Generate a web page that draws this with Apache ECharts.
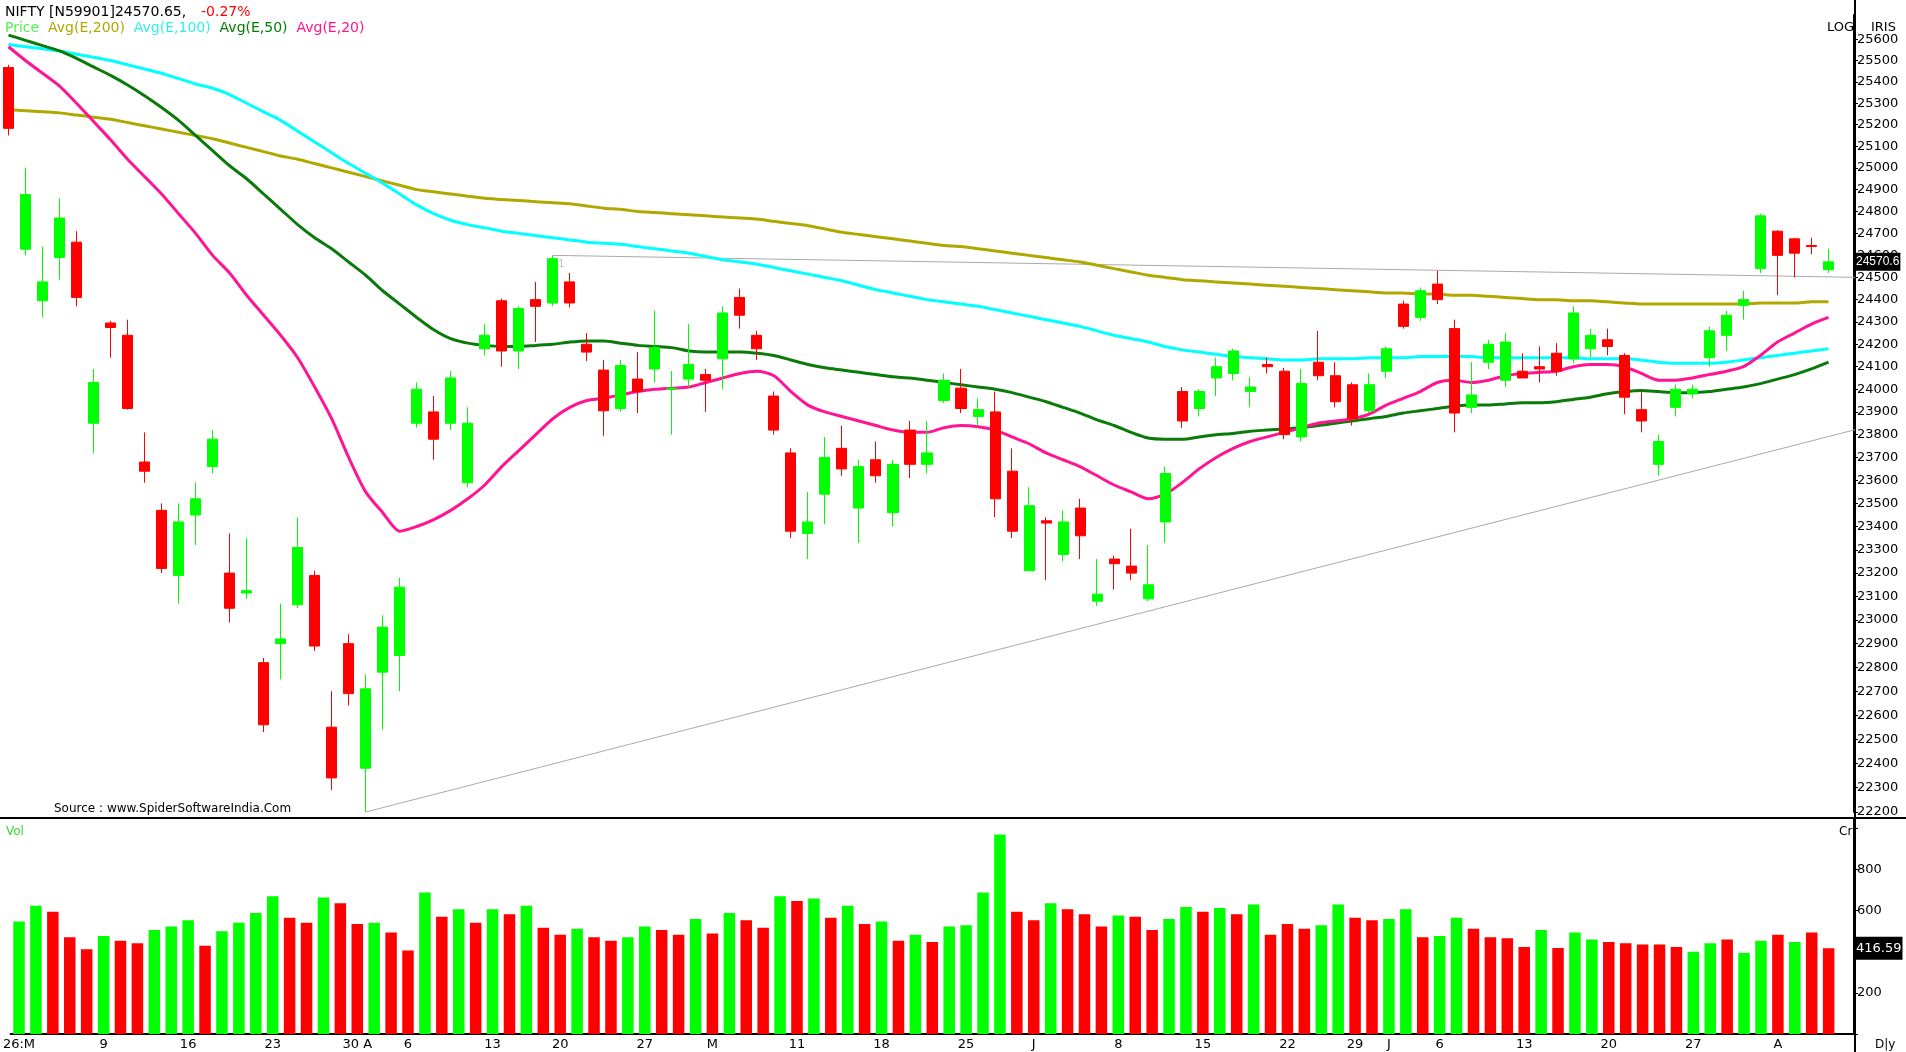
<!DOCTYPE html>
<html><head><meta charset="utf-8">
<script src="https://cdn.jsdelivr.net/npm/echarts@6/dist/echarts.min.js"></script>
<style>html,body{margin:0;padding:0;background:#fff}#c{width:1906px;height:1052px}</style>
</head><body><div id="c"></div>
<script>
const dateLabels = {0:'26:M',5:'9',10:'16',15:'23',20:'30 A',23:'6',28:'13',32:'20',37:'27',41:'M',46:'11',51:'18',56:'25',60:'J',65:'8',70:'15',75:'22',79:'29',81:'J',84:'6',89:'13',94:'20',99:'27',104:'A'};
const openP  = [25467,24628,24395,24590,24660,23850,24295,24240,23680,23470, 23190,23450,23660,23200,23115,22820,22900,23065,23190,22550, 22900,22380,22780,22850,23850,23900,23850,23590,24180,24395, 24170,24400,24385,24480,24200,24085,23915,24045,24090,24000, 24045,24065,24135,24410,24240,23970,23720,23370,23540,23740, 23480,23690,23460,23820,23670,23950,24005,23880,23900,23640, 23210,23425,23280,23480,23080,23260,23230,23090,23420,23990, 23915,24050,24070,23990,24110,24080,23790,24120,24060,24020, 23905,24080,24380,24320,24470,24270,23920,24120,24040,24080, 24100,24160,24135,24180,24220,24150,23910,23670,23920,23980, 24140,24240,24375,24540,24710,24675,24645,24535];
const highP  = [25480,25000,24640,24860,24710,24090,24305,24310,23810,23500, 23500,23590,23820,23370,23350,22840,23070,23440,23210,22700, 22940,22770,23020,23180,24030,23970,24080,23920,24290,24405, 24370,24480,24600,24520,24250,24130,24130,24165,24350,24080, 24290,24090,24370,24450,24260,23990,23740,23550,23790,23840, 23690,23770,23690,23860,23860,24070,24090,23960,23990,23740, 23570,23440,23470,23520,23260,23275,23390,23320,23660,24010, 24000,24140,24180,24055,24140,24095,24090,24260,24120,24030, 24070,24190,24395,24455,24530,24310,24120,24220,24250,24160, 24190,24205,24370,24270,24270,24160,23990,23800,24020,24020, 24280,24350,24440,24790,24715,24680,24680,24630];
const lowP   = [25150,24600,24320,24490,24370,23720,24140,23910,23590,23200, 23070,23320,23630,22990,23090,22530,22750,23050,22870,22290, 22640,22200,22540,22700,23830,23690,23820,23570,24150,24100, 24090,24210,24370,24365,24125,23795,23900,23895,24030,23800, 24010,23900,24000,24270,24130,23800,23350,23260,23410,23620, 23330,23590,23400,23610,23630,23940,23895,23840,23440,23350, 23210,23170,23250,23260,23060,23130,23170,23080,23330,23830, 23880,23970,24040,23920,24070,23780,23770,24040,23920,23840, 23895,24050,24270,24305,24380,23810,23895,24090,24010,24050, 24030,24060,24115,24140,24150,23890,23810,23620,23880,23960, 24100,24170,24310,24520,24420,24500,24605,24520];
const closeP = [25183,24878,24480,24770,24410,24030,24275,23915,23640,23220, 23420,23520,23780,23050,23125,22560,22920,23310,22890,22340, 22690,22710,22970,23140,24000,23780,24050,23850,24240,24170, 24360,24370,24585,24385,24165,23905,24105,23990,24185,24005, 24110,24040,24340,24330,24180,23820,23380,23420,23700,23650, 23660,23620,23670,23670,23720,24040,23915,23910,23520,23380, 23490,23415,23420,23360,23110,23240,23200,23150,23630,23860, 23990,24100,24170,24010,24100,23800,24025,24060,23945,23870, 24020,24180,24280,24440,24400,23895,23975,24200,24210,24050, 24090,24080,24340,24240,24190,23965,23860,23770,24000,24000, 24260,24330,24400,24780,24600,24610,24640,24570.65];
const ema200 = [25270,25265,25260,25255,25245,25235,25225,25210,25195,25180, 25165,25150,25135,25115,25095,25075,25055,25040,25020,25000, 24980,24960,24940,24920,24900,24890,24880,24870,24860,24855, 24850,24845,24840,24835,24825,24815,24810,24800,24795,24790, 24785,24780,24775,24770,24765,24755,24745,24735,24720,24705, 24695,24685,24675,24665,24655,24645,24640,24630,24620,24610, 24600,24590,24580,24570,24555,24540,24525,24510,24500,24490, 24485,24480,24475,24470,24465,24460,24455,24450,24445,24440, 24435,24430,24430,24425,24425,24420,24420,24415,24410,24405, 24400,24400,24395,24395,24390,24385,24380,24380,24380,24380, 24380,24380,24380,24385,24385,24385,24390,24390];
const ema100 = [25575,25565,25555,25545,25530,25515,25500,25480,25460,25440, 25415,25390,25370,25340,25300,25260,25220,25170,25120,25070, 25020,24975,24930,24880,24830,24790,24760,24740,24725,24710, 24700,24690,24680,24670,24660,24655,24650,24640,24630,24620, 24610,24595,24580,24570,24560,24545,24530,24515,24500,24485, 24465,24445,24430,24415,24400,24390,24380,24370,24355,24340, 24325,24310,24295,24280,24260,24240,24225,24210,24190,24175, 24165,24155,24145,24140,24135,24130,24130,24135,24135,24135, 24140,24140,24140,24145,24145,24145,24145,24140,24140,24140, 24140,24140,24140,24135,24135,24135,24130,24120,24115,24115, 24115,24120,24130,24140,24150,24160,24170,24180];
const ema50  = [25620,25595,25570,25545,25510,25470,25430,25385,25335,25280, 25220,25150,25080,25010,24950,24880,24810,24740,24680,24630, 24570,24510,24440,24380,24320,24265,24225,24205,24195,24190, 24190,24195,24200,24210,24215,24215,24205,24195,24190,24185, 24170,24165,24165,24165,24160,24150,24130,24110,24095,24085, 24075,24065,24055,24050,24040,24030,24020,24010,24000,23985, 23965,23945,23920,23895,23865,23840,23810,23785,23780,23780, 23790,23800,23805,23815,23820,23825,23830,23840,23850,23860, 23870,23880,23895,23905,23915,23925,23930,23930,23935,23940, 23940,23945,23955,23965,23980,23990,23995,23990,23985,23985, 23990,24000,24010,24025,24045,24065,24090,24120];
const ema20  = [25565,25500,25440,25380,25300,25215,25130,25040,24960,24880, 24790,24700,24600,24520,24420,24330,24240,24140,24010,23870, 23700,23550,23460,23380,23400,23430,23470,23520,23580,23660, 23730,23800,23870,23920,23950,23960,23975,23990,24000,24005, 24010,24030,24050,24070,24080,24060,23990,23930,23900,23880, 23860,23840,23820,23810,23810,23830,23840,23835,23820,23790, 23760,23720,23690,23660,23620,23580,23550,23520,23540,23590, 23650,23700,23740,23770,23790,23810,23830,23850,23860,23870, 23890,23930,23960,23990,24030,24040,24030,24040,24060,24070, 24075,24080,24100,24110,24110,24100,24070,24040,24040,24050, 24065,24080,24100,24150,24210,24250,24290,24320];
const volume = [547,623,594,470,412,476,453,441,506,523, 553,429,500,541,588,670,565,541,664,635, 535,541,494,406,688,570,606,541,606,582, 623,517,482,512,470,453,470,523,506,482, 559,488,588,553,517,670,647,659,565,623, 535,547,453,482,447,523,529,688,970,594, 553,635,606,582,523,576,570,506,559,617, 594,612,582,629,482,535,512,529,629,565, 553,559,606,470,476,565,512,470,465,423, 506,418,494,459,447,441,435,435,423,400, 441,459,394,453,482,447,494,416.59];
const volDir = 'GGRRRGRRGGGRGGGGRRGRRGRRGRGRGRGRRGRRGGRRGRGRRGRGRGRGRGRGGGGRRGRRRGRRGGRGRGRRRGGRRGGRGGRRRRGRGGRRRRRGGRGGRGRR';
const trendLines = [[[21,22200],[108.6,23830]],[[32,24600],[108.6,24500]]];
const lastPrice = 24570.65, lastVol = 416.59;
const priceTicks = [];
for (let v = 22200; v <= 25600; v += 100) priceTicks.push(v);

const N = 109;
const cats = Array.from({length:N}, (_, i) => dateLabels[i] || '');
const GREEN = '#00ff00', RED = '#ff0000';
const candles = openP.map((o, i) => [o, closeP[i], lowP[i], highP[i]]);
const font = 'Tahoma, "DejaVu Sans", sans-serif';
const chart = echarts.init(document.getElementById('c'));
const maSeries = (name, data, color) => ({type:'line', name, data, xAxisIndex:0, yAxisIndex:0, symbol:'none', smooth:0.25, lineStyle:{color, width:3}, z:3, silent:true});
chart.setOption({
  animation:false,
  backgroundColor:'#fff',
  title:[
    {left:0, top:0, text:'NIFTY [N59901]24570.65,', textStyle:{fontSize:14, fontWeight:'normal', color:'#000', fontFamily:font}},
    {left:196, top:0, text:'-0.27%', textStyle:{fontSize:14, fontWeight:'normal', color:'#ff0000', fontFamily:font}},
    {left:0, top:16, text:'{a|Price}  {b|Avg(E,200)}  {c|Avg(E,100)}  {d|Avg(E,50)}  {e|Avg(E,20)}', textStyle:{fontSize:14, fontWeight:'normal', fontFamily:font,
      rich:{a:{color:'#55ee55',fontSize:14,fontFamily:font},b:{color:'#b0a800',fontSize:14,fontFamily:font},c:{color:'#33eeee',fontSize:14,fontFamily:font},d:{color:'#008000',fontSize:14,fontFamily:font},e:{color:'#ff1493',fontSize:14,fontFamily:font}}}},
    {left:1822, top:16, text:'LOG', textStyle:{fontSize:13, fontWeight:'normal', color:'#000', fontFamily:font}},
    {left:1866, top:16, text:'IRIS', textStyle:{fontSize:13, fontWeight:'normal', color:'#000', fontFamily:font}},
    {left:49, top:798, text:'Source : www.SpiderSoftwareIndia.Com', textStyle:{fontSize:12, fontWeight:'normal', color:'#000', fontFamily:font}},
    {left:1, top:821, text:'Vol', textStyle:{fontSize:12, fontWeight:'normal', color:'#33dd33', fontFamily:font}},
    {left:1834, top:821, text:'Cr', textStyle:{fontSize:12, fontWeight:'normal', color:'#000', fontFamily:font}},
    {left:1870, top:1034, text:'D|y', textStyle:{fontSize:12, fontWeight:'normal', color:'#000', fontFamily:font}}
  ],
  grid:[
    {left:0, right:52, top:15, height:797},
    {left:0, right:52, top:818, height:216}
  ],
  xAxis:[
    {type:'category', gridIndex:0, data:cats, boundaryGap:true, axisLine:{show:false}, axisTick:{show:false}, axisLabel:{show:false}},
    {type:'category', gridIndex:1, data:cats, boundaryGap:true, axisLine:{show:true, lineStyle:{color:'#000', width:2}}, axisTick:{show:false},
     axisLabel:{show:true, interval:0, color:'#000', fontSize:13, fontFamily:font, margin:4}}
  ],
  yAxis:[
    {type:'log', gridIndex:0, position:'right', min:22200, max:25715, logBase:10, splitLine:{show:false},
     axisLine:{show:true, lineStyle:{color:'#000', width:2}},
     axisTick:{show:true, inside:false, length:4, lineStyle:{color:'#000'}, customValues:priceTicks},
     axisLabel:{show:true, color:'#000', fontSize:13, fontFamily:font, margin:3, customValues:priceTicks, formatter:v=>String(Math.round(v))}},
    {type:'value', gridIndex:1, position:'right', min:0, max:1050, interval:200, splitLine:{show:false},
     axisLine:{show:true, lineStyle:{color:'#000', width:2}},
     axisTick:{show:true, length:4, lineStyle:{color:'#000'}},
     axisLabel:{color:'#000', fontSize:13, fontFamily:font, margin:3, formatter:v=>(v===200||v===600||v===800)?String(v):''}}
  ],
  series:[
    ...trendLines.map((t,k)=>({type:'line', name:'trend'+k, data:t, xAxisIndex:0, yAxisIndex:0, symbol:'none', silent:true, clip:false, lineStyle:{color:'#aaaaaa', width:1}, z:2})),
    maSeries('Avg(E,200)', ema200, '#b0a800'),
    maSeries('Avg(E,100)', ema100, '#00ffff'),
    maSeries('Avg(E,50)', ema50, '#0a7a0a'),
    maSeries('Avg(E,20)', ema20, '#ff1493'),
    {type:'candlestick', name:'Price', data:candles, xAxisIndex:0, yAxisIndex:0, barWidth:'62%', z:4,
     itemStyle:{color:GREEN, color0:RED, borderColor:GREEN, borderColor0:RED, borderWidth:1},
     markLine:{silent:true, symbol:'none', animation:false,
       data:[
         {yAxis:lastPrice, lineStyle:{color:'rgba(0,0,0,0)', width:0}, label:{show:true, position:'end', formatter:'24570.6', backgroundColor:'#000', color:'#fff', fontSize:12, fontFamily:'"Liberation Sans", Arial, sans-serif', padding:[3,1], distance:1}}
       ]},
     markPoint:{silent:true, symbol:'rect', symbolSize:1, data:[{coord:[32.3,24560], itemStyle:{color:'rgba(0,0,0,0)'}, label:{show:true, formatter:'1', color:'#bbb', fontSize:11, position:'right'}}]}
    },
    {type:'bar', name:'Vol', xAxisIndex:1, yAxisIndex:1, barWidth:'68%',
     data:volume.map((v,i)=>({value:v, itemStyle:{color: volDir[i]==='G'?GREEN:RED}})),
     markLine:{silent:true, symbol:'none', data:[{yAxis:lastVol, lineStyle:{color:'rgba(0,0,0,0)', width:0}, label:{show:true, position:'end', formatter:'416.59', backgroundColor:'#000', color:'#fff', fontSize:13, fontFamily:font, padding:[5,1], distance:1}}]}
    }
  ],
  graphic:[
    {type:'line', shape:{x1:0, y1:818, x2:1906, y2:818}, style:{stroke:'#000', lineWidth:2}, silent:true},
    {type:'line', shape:{x1:1855, y1:0, x2:1855, y2:1052}, style:{stroke:'#000', lineWidth:2}, silent:true}
  ]
});
</script></body></html>
